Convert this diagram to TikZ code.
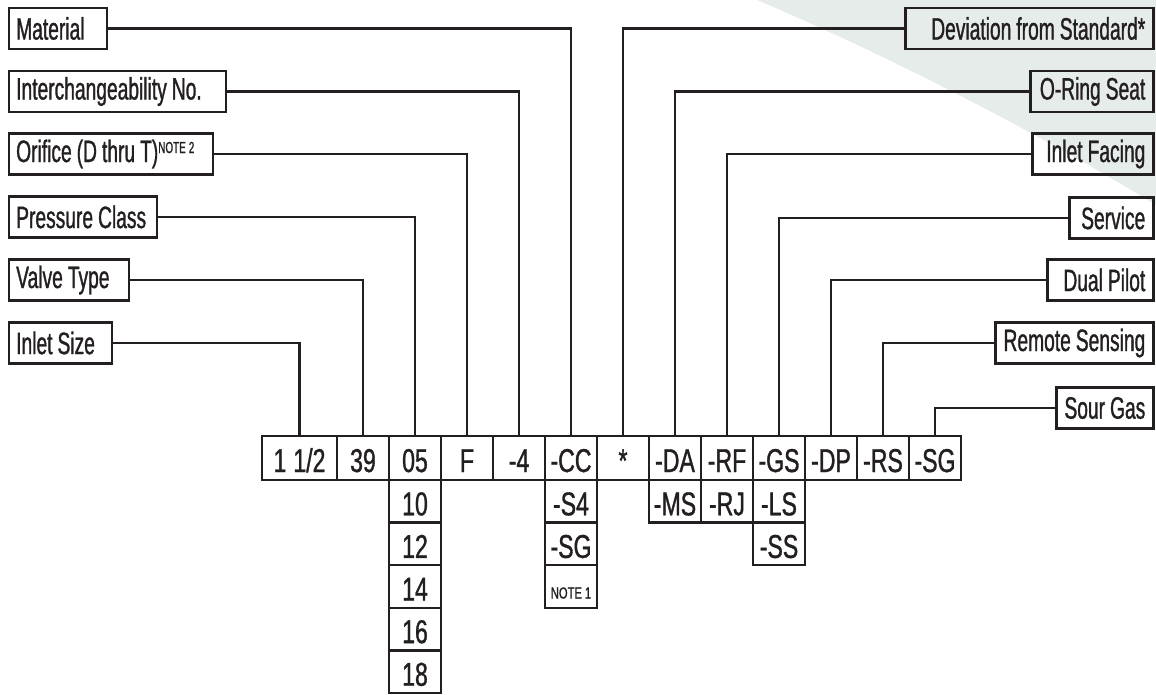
\documentclass[tikz,border=0pt]{standalone}
\usepackage{fontspec}
\setmainfont[FakeStretch=0.62, FakeBold=1]{Liberation Sans}
\newfontfamily\cellfam[FakeStretch=0.7, FakeBold=1]{Liberation Sans}
\usepackage{tikz}

\definecolor{ink}{HTML}{231F20}
\definecolor{swoosh}{HTML}{E6ECEA}
\newcommand{\lbl}{\fontsize{31}{32}\selectfont\color{ink}}
\newcommand{\celf}{\cellfam\fontsize{33}{34}\selectfont\color{ink}}
\newcommand{\notesz}{\fontsize{16}{17}\selectfont}
\newcommand{\gap}{\hspace{5pt}}

\tikzset{
  box/.style={draw=ink, line width=2.4pt, minimum height=41pt,
    inner ysep=0pt, text width=#1, font=\lbl},
  tag/.style={box=#1, anchor=west, inner xsep=7pt,
    execute at begin node={\hbox to\hsize\bgroup},
    execute at end node={\hss\egroup}},
  rtag/.style={box=#1, anchor=east, inner xsep=8pt,
    execute at begin node={\hbox to\hsize\bgroup\hss},
    execute at end node={\egroup}},
  cell/.style={draw=ink, line width=2.4pt, minimum width=52pt,
    minimum height=42.6pt, inner sep=0pt, text height=28pt, text depth=0pt,
    font=\celf},
  lead/.style={draw=ink, line width=2.2pt},
}

\begin{document}
\begin{tikzpicture}[x=1pt, y=-1pt]
  \useasboundingbox (0,0) rectangle (1156,694);
  \fill[swoosh] (757,0) .. controls (870,48) and (1020,122) .. (1156,205)
    -- (1156,0) -- cycle;

  % labels on the left
  \node[tag=84] (l-mat) at (8,28.5) {Material};
  \node[tag=203] (l-ich) at (8,91.5) {Interchangeability\gap No.};
  \node[tag=190] (l-orif) at (8,154) {Orifice\gap(D\gap thru\gap T)\raisebox{9pt}{\notesz NOTE\hspace{3pt}2}};
  \node[tag=134] (l-pres) at (8,217) {Pressure\gap Class};
  \node[tag=106] (l-type) at (8,280) {Valve\gap Type};
  \node[tag=89] (l-size) at (8,343) {Inlet\gap Size};

  % labels on the right
  \node[rtag=232] (l-dev) at (1154.5,28.5) {Deviation\gap from\gap Standard*};
  \node[rtag=107] (l-ors) at (1154.5,91.5) {O-Ring\gap Seat};
  \node[rtag=105] (l-ifc) at (1154.5,154) {Inlet\gap Facing};
  \node[rtag=68] (l-svc) at (1154.5,218) {Service};
  \node[rtag=90] (l-dpl) at (1154.5,280) {Dual\gap Pilot};
  \node[rtag=142] (l-rsn) at (1154.5,343) {Remote\gap Sensing};
  \node[rtag=81] (l-sgs) at (1154.5,408) {Sour\gap Gas};

  % model number
  \node[cell, minimum width=75pt, minimum height=44pt] (c-size) at (299.5,458) {1\hskip7pt 1/2};
  \foreach \nm/\txt [count=\i from 0] in {type/39, pres/05, orif/F, ich/-4,
      mat/-CC, dev/*, ors/-DA, ifc/-RF, svc/-GS, dpl/-DP, rsn/-RS, sgs/-SG}
    \node[cell, minimum height=44pt] (c-\nm) at (363+52*\i,458) {\txt};

  % options below
  \foreach \txt [count=\r] in {10,12,14,16,18}
    \node[cell] (p\r) at (415,458.7+42.6*\r) {\txt};
  \node[cell] (m1) at (571,501.3) {-S4};
  \node[cell] (m2) at (571,543.9) {-SG};
  \node[cell, text height=24pt] (m3) at (571,586.5) {\notesz NOTE\hspace{3pt}1};
  \node[cell] (o1) at (675,501.3) {-MS};
  \node[cell] (f1) at (727,501.3) {-RJ};
  \node[cell] (s1) at (779,501.3) {-LS};
  \node[cell] (s2) at (779,543.9) {-SS};

  % leaders
  \foreach \nm in {mat, ich, orif, pres, type, size, dev, ors, ifc, svc, dpl, rsn, sgs}
    \draw[lead] (l-\nm) -| (c-\nm.north);
\end{tikzpicture}
\end{document}
